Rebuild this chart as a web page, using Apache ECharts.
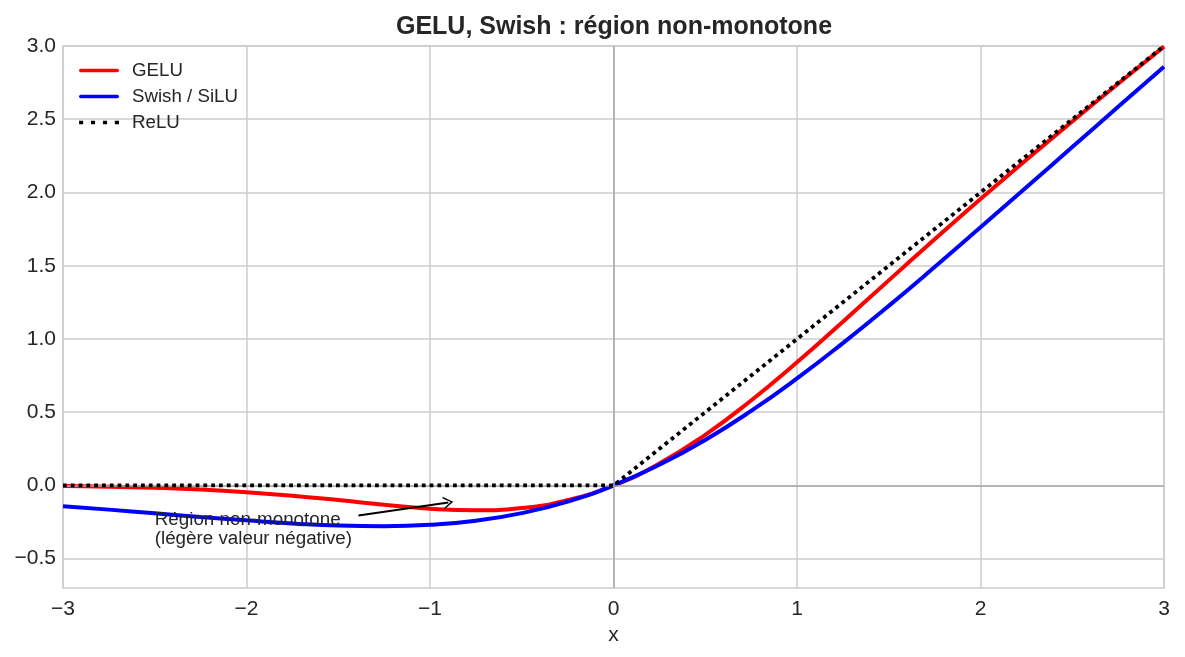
<!DOCTYPE html>
<html><head><meta charset="utf-8">
<script src="https://cdn.jsdelivr.net/npm/echarts@6/dist/echarts.min.js"></script>
<style>html,body{margin:0;padding:0;background:#fff}#c{width:1185px;height:657px}</style>
</head><body><div id="c"></div>
<script>
const xs = [-3,-2.75,-2.5,-2.25,-2,-1.75,-1.5,-1.25,-1,-0.75,-0.5,-0.25,0,0.25,0.5,0.75,1,1.25,1.5,1.75,2,2.25,2.5,2.75,3];
const gelu = [-0.004,-0.008,-0.016,-0.028,-0.046,-0.070,-0.100,-0.132,-0.159,-0.170,-0.154,-0.100,0,0.150,0.346,0.580,0.841,1.118,1.400,1.680,1.955,2.223,2.485,2.742,2.996];
const swish = [-0.142,-0.165,-0.190,-0.215,-0.238,-0.259,-0.274,-0.278,-0.269,-0.241,-0.189,-0.110,0,0.141,0.311,0.509,0.731,0.972,1.226,1.491,1.762,2.036,2.310,2.585,2.858];
const reluX = [-3,0,3];
const relu = [0,0,3];
const yTicks = [-0.5,0,0.5,1,1.5,2,2.5,3];
const annotText = ['Région non-monotone','(légère valeur négative)'];
const annotPos = [-2.5,-0.302];
const arrowFrom = [-1.39,-0.205];
const arrowTo = [-0.9,-0.116];

const fmt = v => String(v).replace('-', '\u2212');
const fmtY = v => (v < 0 ? '\u2212' : '') + Math.abs(v).toFixed(1);
const font = 'Liberation Sans, Arial, sans-serif';
const chevron = 'path://M0,0 L6,10 L4.4,10 L0,2.6 L-4.4,10 L-6,10 Z';
const solidIcon = 'path://M1.75,0 H38.25 A1.75,1.75 0 0 1 38.25,3.5 H1.75 A1.75,1.75 0 0 1 1.75,0 Z';
const dotIcon = 'path://M0,0h4v3.5h-4z M11.5,0h4v3.5h-4z M23,0h4v3.5h-4z M34.5,0h4v3.5h-4z';

const chart = echarts.init(document.getElementById('c'));
chart.setOption({
  animation: false,
  textStyle: {fontFamily: font},
  title: {text: 'GELU, Swish : région non-monotone', left: 609, top: 10, textAlign: 'center',
    textStyle: {fontSize: 25, fontWeight: 'bold', color: '#262626', fontFamily: font}},
  grid: {left: 63, right: 21, top: 46, bottom: 69, show: true, borderColor: '#cccccc', borderWidth: 1.5, backgroundColor: 'transparent'},
  legend: {orient: 'vertical', left: 74, top: 56, itemWidth: 40, itemHeight: 4, itemGap: 7,
    textStyle: {fontSize: 18.7, color: '#262626', fontFamily: font, padding: [0, 0, 0, 8]},
    data: [{name: 'GELU', icon: solidIcon}, {name: 'Swish / SiLU', icon: solidIcon}, {name: 'ReLU', icon: dotIcon}]},
  xAxis: {type: 'value', min: -3, max: 3, interval: 1,
    name: 'x', nameLocation: 'middle', nameGap: 34, nameTextStyle: {fontSize: 21, color: '#262626'},
    axisLine: {show: false}, axisTick: {show: false},
    axisLabel: {fontSize: 21, color: '#262626', margin: 11, formatter: fmt},
    splitLine: {show: true, lineStyle: {color: '#cccccc', width: 1.5}}},
  yAxis: {type: 'value', min: -0.7, max: 3.0,
    axisLine: {show: false},
    axisTick: {show: false, customValues: yTicks},
    axisLabel: {fontSize: 21, color: '#262626', margin: 7, customValues: yTicks, formatter: fmtY},
    splitLine: {show: true, lineStyle: {color: '#cccccc', width: 1.5}}},
  series: [
    {name: 'zero', type: 'line', data: [], silent: true,
      markLine: {silent: true, symbol: 'none', label: {show: false},
        lineStyle: {color: '#a8a8a8', width: 1.5, type: 'solid'},
        data: [{yAxis: 0}, {xAxis: 0}]}},
    {name: 'GELU', type: 'line', symbol: 'none', smooth: true, z: 3,
      data: xs.map((x, i) => [x, gelu[i]]), lineStyle: {color: '#ff0000', width: 4}, itemStyle: {color: '#ff0000'}},
    {name: 'Swish / SiLU', type: 'line', symbol: 'none', smooth: true, z: 4,
      data: xs.map((x, i) => [x, swish[i]]), lineStyle: {color: '#0000ff', width: 4}, itemStyle: {color: '#0000ff'},
      markPoint: {symbol: 'circle', symbolSize: 0, silent: true,
        data: [{coord: annotPos, label: {show: true, position: 'right', distance: 0, align: 'left', verticalAlign: 'middle',
          formatter: annotText.join('\n'), fontSize: 18.8, lineHeight: 19, color: '#262626', fontFamily: font}}]},
      markLine: {silent: true, symbol: ['none', chevron], symbolSize: [13, 10], label: {show: false},
        lineStyle: {color: '#000', width: 2, type: 'solid'},
        data: [[{coord: arrowFrom}, {coord: arrowTo}]]}},
    {name: 'ReLU', type: 'line', symbol: 'none', z: 5,
      data: reluX.map((x, i) => [x, relu[i]]), lineStyle: {color: '#000000', width: 3.8, type: [3.8, 4], cap: 'butt'}, itemStyle: {color: '#000'}}
  ]
});
</script></body></html>
